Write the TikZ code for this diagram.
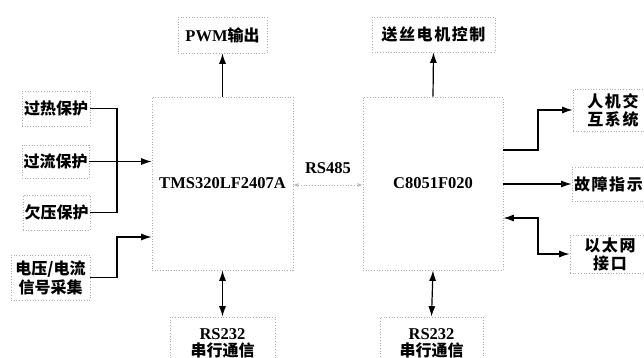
\documentclass[tikz,border=0pt]{standalone}
\usepackage{fontspec}
\setmainfont{Liberation Serif}
\newfontfamily\cjk{Noto Sans CJK SC}
\usetikzlibrary{arrows.meta}
\newcommand{\cz}{\cjk\fontsize{16}{20}\selectfont\bfseries}
\newcommand{\czw}{\cjk\fontsize{16}{20}\addfontfeature{LetterSpace=10}\selectfont\bfseries}
\newcommand{\lt}{\rmfamily\fontsize{16.5}{20}\selectfont\bfseries}
\begin{document}
\begin{tikzpicture}[x=1pt,y=-1pt,
  box/.style={draw=gray!65, dotted, line width=0.7pt, inner sep=0pt, align=center, font=\cz},
  ar/.style={line width=1.2pt, -{Latex[length=10.5pt,width=7pt]}},
  dar/.style={line width=1.2pt, {Latex[length=10.5pt,width=7pt]}-{Latex[length=10.5pt,width=7pt]}},
  ln/.style={line width=1.2pt}]
\useasboundingbox (0,0) rectangle (644,357);
\fill[white] (0,0) rectangle (644,357);
\clip (0,0) rectangle (644,357);
% main boxes
\node[box, minimum width=141, minimum height=173, font=\lt] (tms) at (222.5,183.5) {TMS320LF2407A};
\node[box, minimum width=140, minimum height=173, font=\lt] (c8) at (433,183.5) {C8051F020};
% top
\node[box, minimum width=89, minimum height=36] (pwm) at (222.5,35) {{\lt PWM}输出};
\node[box, minimum width=123, minimum height=35, font=\czw] (ss) at (433.5,34.5) {送丝电机控制};
% left
\node[box, minimum width=68, minimum height=35] (gr) at (56,108.5) {过热保护};
\node[box, minimum width=67, minimum height=33] (gl) at (55.5,161.5) {过流保护};
\node[box, minimum width=67, minimum height=35] (qy) at (56.5,212.5) {欠压保护};
\node[box, minimum width=79, minimum height=45] (cj) at (50.5,277.5) {电压/电流\\[-1pt]信号采集};
% bottom
\node[box, minimum width=105, minimum height=52] (r1) at (222.5,343) {{\lt RS232}\\[-3pt]串行通信};
\node[box, minimum width=103, minimum height=52] (r2) at (431.5,343) {{\lt RS232}\\[-3pt]串行通信};
% right
\node[box, minimum width=80, minimum height=42, font=\czw] (rj) at (613,110) {人机交\\[-2pt]互系统};
\node[box, minimum width=82, minimum height=34, font=\czw, text width=78, align=left, inner xsep=2pt] (gz) at (613,184) {故障指示};
\node[box, minimum width=80, minimum height=38, font=\czw] (yt) at (610,254) {以太网\\[-2pt]接口};
% junction coordinates
\coordinate (jl) at (117,161);
\coordinate (jr) at (538,184);
% left connectors
\draw[ln] (gr.east) -| (jl) |- (qy.east);
\draw[ar] (gl.east) -- (gl.east -| tms.west);
\draw[ar] (cj.east) -- (cj.east -| jl) |- ([yshift=-53.5pt]tms.west);
% top connectors
\draw[ar] (tms.north) -- (pwm.south);
\draw[ar] (c8.north) -- (ss.south);
% bottom connectors
\draw[dar] (tms.south) -- (r1.north);
\draw[dar] (c8.south) -- (r2.north);
% right connectors
\coordinate (c8a) at ([yshift=33.5pt]c8.east);
\coordinate (c8b) at ([yshift=-34.5pt]c8.east);
\draw[ar] (c8a) -- (c8a -| jr) |- (rj.west);
\draw[ar] (c8.east |- gz.west) -- (gz.west);
\draw[dar] (c8b) -- (c8b -| jr) |- (yt.west);
% RS485
\draw[gray!60, dotted, line width=0.8pt, {Latex[length=5pt,width=4pt,open]}-{Latex[length=5pt,width=4pt,open]}] ([yshift=-1.5pt]tms.east) -- ([yshift=-1.5pt]c8.west) node[midway, above=8pt, black, font=\lt] {RS485};
\end{tikzpicture}
\end{document}
